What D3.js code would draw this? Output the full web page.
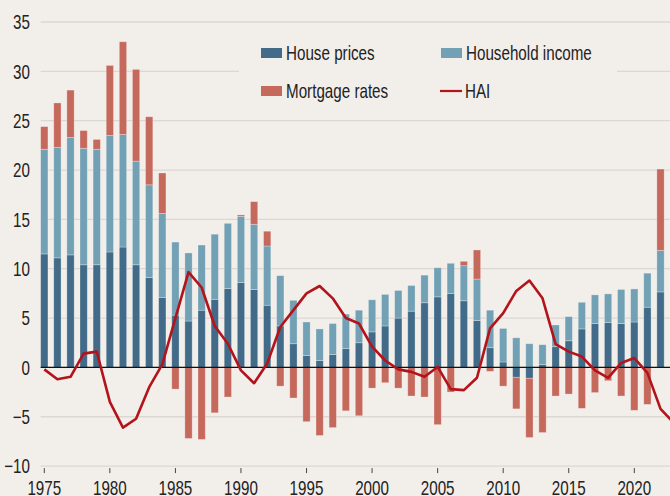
<!DOCTYPE html>
<html>
<head>
<meta charset="utf-8">
<script src="https://cdn.jsdelivr.net/npm/d3@7"></script>
<style>
  body { margin: 0; background: #f2eeea; }
  svg { display: block; }
  text { font-family: "Liberation Sans", Arial, sans-serif; fill: #222; }
</style>
</head>
<body>
<div id="chart"></div>
<script>
// values
const years = d3.range(1975, 2024);
const housePrices = [11.5, 11.1, 11.4, 10.4, 10.4, 11.7, 12.2, 10.4, 9.1, 7.1,
  5.3, 4.7, 5.8, 6.9, 8.0, 8.6, 7.9, 6.3, 4.2, 2.4,
  1.2, 0.7, 1.3, 1.9, 2.5, 3.6, 4.2, 5.0, 5.7, 6.55,
  7.15, 7.5, 6.75, 4.75, 2.0, 0.55, -1.0, -1.1, 0.3, 2.1,
  2.7, 3.9, 4.45, 4.55, 4.45, 4.6, 6.1, 7.65, 7.3];
const householdIncome = [10.6, 11.2, 11.9, 11.8, 11.7, 11.8, 11.4, 10.5, 9.4, 8.5,
  7.4, 6.9, 6.6, 6.6, 6.6, 6.7, 6.6, 6.0, 5.1, 4.4,
  3.4, 3.2, 3.15, 3.5, 3.3, 3.25, 3.2, 2.8, 2.6, 2.8,
  2.95, 3.05, 3.55, 4.2, 3.8, 3.4, 3.0, 2.4, 2.0, 2.2,
  2.45, 2.7, 2.9, 2.9, 3.45, 3.35, 3.45, 4.2, 4.5];
const mortgageRates = [2.3, 4.5, 4.8, 1.8, 1.0, 7.1, 9.4, 9.3, 6.9, 4.1,
  -2.2, -7.2, -7.3, -4.6, -3.0, 0.15, 2.3, 1.5, -1.9, -3.1,
  -5.5, -6.9, -6.1, -4.4, -4.9, -2.1, -1.55, -2.1, -2.9, -3.0,
  -5.8, -2.5, 0.45, 2.95, -0.4, -1.9, -3.2, -6.0, -6.6, -2.9,
  -2.7, -4.15, -2.55, -1.35, -2.9, -4.35, -3.75, 8.25, 15.4];
const hai = [-0.2, -1.2, -0.95, 1.4, 1.6, -3.5, -6.1, -5.2, -2.0, 0.3,
  5.0, 9.65, 8.1, 4.2, 2.4, -0.3, -1.6, 0.4, 4.1, 5.8,
  7.5, 8.25, 7.0, 5.0, 4.45, 2.1, 0.7, -0.2, -0.45, -0.95,
  0.05, -2.2, -2.3, -1.05, 3.95, 5.5, 7.75, 8.8, 7.0, 2.35,
  1.6, 1.1, -0.3, -1.05, 0.45, 0.95, -0.55, -4.2, -5.6];
const yTicks = d3.range(-10, 36, 5);
const xTicks = d3.range(1975, 2021, 5);
const seriesKeys = ["house", "income", "mortgage"];
const seriesNames = ["House prices", "Household income", "Mortgage rates", "HAI"];
const colors = {house: "#416b89", income: "#72a0b4", mortgage: "#c6695d", hai: "#b3131b"};

const width = 670, height = 496;
const squeeze = 0.76; // the reference uses a condensed face

const svg = d3.select("#chart").append("svg")
  .attr("width", width)
  .attr("height", height);

svg.append("rect").attr("width", width).attr("height", height).attr("fill", "#f2eeea");

const x = d3.scaleLinear().domain([1975, 2020]).range([44.3, 634.3]);
const y = d3.scaleLinear().domain([-10, 35]).range([466.1, 22.0]);
const barW = 7.3;

function narrowText(sel, tx, ty, anchor) {
  return sel.append("text")
    .attr("transform", `translate(${tx},${ty}) scale(${squeeze},1)`)
    .attr("text-anchor", anchor)
    .attr("font-size", "20px");
}

// gridlines
svg.append("g")
  .selectAll("line")
  .data(yTicks)
  .enter()
  .append("line")
    .attr("x1", x(1975) - barW / 2)
    .attr("x2", width)
    .attr("y1", d => y(d))
    .attr("y2", d => y(d))
    .attr("stroke", "#dcd7d3")
    .attr("stroke-width", 1.3);

// y labels
const yLab = svg.append("g");
yTicks.forEach(function(d) {
  narrowText(yLab, 30, y(d), "end")
    .attr("dy", "0.36em")
    .text(d < 0 ? "\u2212" + Math.abs(d) : d);
});

// x axis ticks and labels
const xAxis = svg.append("g");
xAxis.selectAll("line")
  .data(xTicks)
  .enter()
  .append("line")
    .attr("x1", d => x(d))
    .attr("x2", d => x(d))
    .attr("y1", y(-10) + 2)
    .attr("y2", y(-10) + 7)
    .attr("stroke", "#444")
    .attr("stroke-width", 1);
xTicks.forEach(function(d) {
  narrowText(xAxis, x(d), 495, "middle").text(d);
});

// stacked bars (positive up, negative down)
const rows = years.map((yr, i) => ({year: yr, house: housePrices[i], income: householdIncome[i], mortgage: mortgageRates[i]}));
const stacked = d3.stack().keys(seriesKeys).offset(d3.stackOffsetDiverging)(rows);

svg.append("g")
  .selectAll("g")
  .data(stacked)
  .enter()
  .append("g")
    .attr("fill", d => colors[d.key])
  .selectAll("rect")
  .data(d => d)
  .enter()
  .append("rect")
    .attr("x", d => x(d.data.year) - barW / 2)
    .attr("y", d => y(Math.max(d[0], d[1])))
    .attr("width", barW)
    .attr("height", d => Math.abs(y(d[0]) - y(d[1])))
    .attr("stroke", "rgba(255,255,255,0.35)")
    .attr("stroke-width", 0.8);

// zero line
svg.append("line")
  .attr("x1", x(1975) - barW / 2)
  .attr("x2", width)
  .attr("y1", y(0))
  .attr("y2", y(0))
  .attr("stroke", "#111")
  .attr("stroke-width", 1.2);

// HAI line
svg.append("path")
  .datum(years.map((yr, i) => [yr, hai[i]]))
  .attr("fill", "none")
  .attr("stroke", colors.hai)
  .attr("stroke-width", 2.6)
  .attr("stroke-linejoin", "round")
  .attr("d", d3.line().x(d => x(d[0])).y(d => y(d[1])));

// legend
const legend = svg.append("g");
legend.append("rect")
  .attr("x", 239).attr("y", 30)
  .attr("width", 378).attr("height", 84)
  .attr("fill", "#f2eeea");

const legendItems = [
  {name: seriesNames[0], color: colors.house, lx: 261, ly: 53, type: "box"},
  {name: seriesNames[1], color: colors.income, lx: 441, ly: 53, type: "box"},
  {name: seriesNames[2], color: colors.mortgage, lx: 261, ly: 91, type: "box"},
  {name: seriesNames[3], color: colors.hai, lx: 440, ly: 91, type: "line"}
];

legendItems.forEach(function(it) {
  if (it.type === "box") {
    legend.append("rect")
      .attr("x", it.lx).attr("y", it.ly - 5)
      .attr("width", 21).attr("height", 10)
      .attr("fill", it.color);
  } else {
    legend.append("line")
      .attr("x1", it.lx).attr("x2", it.lx + 22)
      .attr("y1", it.ly).attr("y2", it.ly)
      .attr("stroke", it.color)
      .attr("stroke-width", 2.2);
  }
  narrowText(legend, it.lx + 25, it.ly, "start")
    .attr("dy", "0.36em")
    .text(it.name);
});
</script>
</body>
</html>
